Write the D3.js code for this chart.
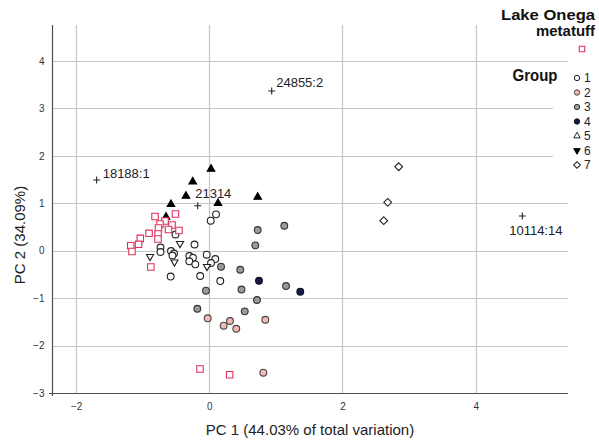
<!DOCTYPE html>
<html>
<head>
<meta charset="utf-8">
<script src="https://cdn.jsdelivr.net/npm/d3@7"></script>
<style>
  html, body { margin: 0; padding: 0; background: #fff; }
  svg { display: block; }
</style>
</head>
<body>
<svg id="chart" width="599" height="440"></svg>
<script>
// ---------- data (PC1, PC2) ----------
const xTicks = [-2, 0, 2, 4];
const yTicks = [-3, -2, -1, 0, 1, 2, 3, 4];
const groupLabels = ["1", "2", "3", "4", "5", "6", "7"];

const metatuff = [
  [-0.815, 0.721], [-0.508, 0.774], [-0.665, 0.626], [-0.740, 0.563], [-0.560, 0.542],
  [-0.763, 0.479], [-0.613, 0.447], [-0.455, 0.426], [-0.905, 0.367], [-0.770, 0.352],
  [-0.770, 0.247], [-1.036, 0.261], [-1.063, 0.135], [-1.180, 0.105], [-1.161, -0.017],
  [-0.878, -0.344], [-0.140, -2.494], [0.306, -2.614]
];
const group1 = [
  [0.101, 0.767], [0.021, 0.633], [-0.508, 0.342], [-0.222, 0.131], [-0.733, 0.067],
  [-0.733, -0.027], [-0.575, -0.006], [-0.530, -0.059], [-0.553, -0.101], [-0.300, -0.112],
  [-0.245, -0.148], [-0.300, -0.223], [-0.210, -0.287], [-0.039, -0.084], [0.090, -0.175],
  [0.026, -0.259], [-0.580, -0.544], [-0.137, -0.533], [0.165, -0.639]
];
const group2 = [
  [-0.024, -1.425], [0.216, -1.581], [0.311, -1.482], [0.405, -1.645], [0.841, -1.455], [0.811, -2.572]
];
const group3 = [
  [0.727, 0.436], [1.126, 0.527], [0.691, 0.114], [0.176, -0.337], [0.465, -0.401],
  [-0.050, -0.843], [0.483, -0.818], [1.152, -0.744], [0.716, -1.039], [-0.180, -1.223], [0.532, -1.278]
];
const group4 = [[0.746, -0.633], [1.366, -0.864]];
const group5 = [[-0.440, 0.152], [-0.890, -0.122], [-0.523, -0.238], [-0.035, -0.333]];
const group6 = [
  [0.026, 1.723], [-0.249, 1.455], [-0.350, 1.153], [-0.575, 0.978], [0.131, 0.999],
  [0.727, 1.132], [-0.650, 0.711]
];
const group7 = [[2.844, 1.771], [2.679, 1.020], [2.619, 0.633]];
const labelled = [
  ["18188:1", -1.691, 1.491],
  ["21314", -0.174, 0.949],
  ["24855:2", 0.937, 3.367],
  ["10114:14", 4.700, 0.732]
];

// ---------- layout ----------
const svg = d3.select("#chart");
const L = 52, R = 568, T = 25, B = 393;
const x = d3.scaleLinear().domain([-2.362, 5.386]).range([L, R]);
const y = d3.scaleLinear().domain([-3, 4.76]).range([B, T]);

const gridColor = "#c6c6c6";
const axisColor = "#4d4d4d";
const tickFont = "Liberation Sans, Arial, sans-serif";

// gridlines
svg.append("g").selectAll("line").data(yTicks.filter(d => d > -3)).join("line")
  .attr("x1", L).attr("x2", R)
  .attr("y1", d => Math.round(y(d)) + 0.5).attr("y2", d => Math.round(y(d)) + 0.5)
  .attr("stroke", gridColor).attr("stroke-width", 1.2);
svg.append("g").selectAll("line").data(xTicks).join("line")
  .attr("x1", d => Math.round(x(d)) + 0.5).attr("x2", d => Math.round(x(d)) + 0.5)
  .attr("y1", T).attr("y2", B)
  .attr("stroke", gridColor).attr("stroke-width", 1.2);

// axes (D3 axes with no ticks; labels only)
const xAxis = svg.append("g").attr("transform", `translate(0,${B + 0.5})`)
  .call(d3.axisBottom(x).tickValues(xTicks).tickSize(0).tickPadding(9).tickFormat(d3.format("d")));
xAxis.select(".domain").attr("d", `M${L - 3},0H${R}`).attr("stroke", axisColor).attr("stroke-width", 1.2);
xAxis.selectAll("text").attr("font-family", tickFont).attr("font-size", 10).attr("fill", "#333");

const yAxis = svg.append("g").attr("transform", `translate(${L + 0.5},0)`)
  .call(d3.axisLeft(y).tickValues(yTicks).tickSize(0).tickPadding(8).tickFormat(d3.format("d")));
yAxis.select(".domain").attr("d", `M0,${T}V${B + 3}`).attr("stroke", axisColor).attr("stroke-width", 1.2);
yAxis.selectAll("text").attr("font-family", tickFont).attr("font-size", 10).attr("fill", "#333");

// axis titles
svg.append("text").attr("x", (L + R) / 2).attr("y", 435).attr("text-anchor", "middle")
  .attr("font-family", tickFont).attr("font-size", 15).attr("fill", "#222")
  .text("PC 1 (44.03% of total variation)");
svg.append("text").attr("transform", "translate(25,235) rotate(-90)").attr("text-anchor", "middle")
  .attr("font-family", tickFont).attr("font-size", 15).attr("fill", "#222")
  .text("PC 2 (34.09%)");

// ---------- marks ----------
const pts = svg.append("g");
function circles(data, fill, stroke) {
  pts.append("g").selectAll("circle").data(data).join("circle")
    .attr("cx", d => x(d[0])).attr("cy", d => y(d[1])).attr("r", 3.4)
    .attr("fill", fill).attr("stroke", stroke).attr("stroke-width", 1.1);
}
function symbols(data, type, size, fill, stroke, rot) {
  pts.append("g").selectAll("path").data(data).join("path")
    .attr("d", d3.symbol().type(type).size(size))
    .attr("transform", d => `translate(${x(d[0])},${y(d[1])}) rotate(${rot || 0})`)
    .attr("fill", fill).attr("stroke", stroke).attr("stroke-width", 1.1);
}
circles(group1, "#fff", "#222");
symbols(group5, d3.symbolTriangle, 22, "#fff", "#222", 180);
circles(group3, "#9a9a9a", "#333");
circles(group2, "#f5b7b1", "#444");
circles(group4, "#141a4a", "#111");
symbols(group6, d3.symbolTriangle, 25, "#000", "#000", 0);
symbols(group7, d3.symbolSquare, 30, "#fff", "#222", 45);
symbols(metatuff, d3.symbolSquare, 42, "#fff", "#e0305a", 0);

// labelled plus markers
const plusG = svg.append("g");
const offsets = { "18188:1": [6, -2, "start"], "21314": [-2.5, -7.4, "start"], "24855:2": [4.5, -3.7, "start"], "10114:14": [13.5, 19, "middle"] };
labelled.forEach(([name, px, py]) => {
  const cx = x(px), cy = y(py);
  plusG.append("path").attr("d", `M${cx - 3.5},${cy}H${cx + 3.5}M${cx},${cy - 3.5}V${cy + 3.5}`)
    .attr("stroke", "#222").attr("stroke-width", 1.1);
  const o = offsets[name];
  plusG.append("text").attr("x", cx + o[0]).attr("y", cy + o[1]).attr("text-anchor", o[2])
    .attr("font-family", "Liberation Sans, Arial, sans-serif").attr("font-size", 13).attr("fill", "#222")
    .text(name);
});

// ---------- legend ----------
svg.append("rect").attr("x", 553).attr("y", 64).attr("width", 46).attr("height", 112).attr("fill", "#fff");
const leg = svg.append("g");
const boldFont = "Liberation Sans, Arial, sans-serif";
leg.append("text").attr("x", 595).attr("y", 20).attr("text-anchor", "end")
  .attr("font-family", boldFont).attr("font-weight", "bold").attr("font-size", 14.5)
  .attr("textLength", 94).attr("lengthAdjust", "spacingAndGlyphs").attr("fill", "#111").text("Lake Onega");
leg.append("text").attr("x", 595).attr("y", 36).attr("text-anchor", "end")
  .attr("font-family", boldFont).attr("font-weight", "bold").attr("font-size", 14.5)
  .attr("textLength", 59).attr("lengthAdjust", "spacingAndGlyphs").attr("fill", "#111").text("metatuff");
leg.append("path").attr("d", d3.symbol().type(d3.symbolSquare).size(30)).attr("transform", "translate(582,49)")
  .attr("fill", "#fff").attr("stroke", "#e0305a").attr("stroke-width", 1.1);
leg.append("text").attr("x", 557.5).attr("y", 81).attr("text-anchor", "end")
  .attr("font-family", boldFont).attr("font-weight", "bold").attr("font-size", 17)
  .attr("textLength", 45).attr("lengthAdjust", "spacingAndGlyphs").attr("fill", "#111").text("Group");

const legendSyms = [
  { t: "c", fill: "#fff", stroke: "#222" },
  { t: "c", fill: "#f5b7b1", stroke: "#444" },
  { t: "c", fill: "#9a9a9a", stroke: "#333" },
  { t: "c", fill: "#141a4a", stroke: "#111" },
  { t: d3.symbolTriangle, fill: "#fff", stroke: "#222", rot: 0, s: 18 },
  { t: d3.symbolTriangle, fill: "#000", stroke: "#000", rot: 180, s: 18 },
  { t: d3.symbolSquare, fill: "#fff", stroke: "#222", rot: 45, s: 22 }
];
const legY = d3.scalePoint().domain(groupLabels).range([78, 165]);
groupLabels.forEach((g, i) => {
  const s = legendSyms[i], cy = legY(g);
  if (s.t === "c") {
    leg.append("circle").attr("cx", 577).attr("cy", cy).attr("r", 2.7)
      .attr("fill", s.fill).attr("stroke", s.stroke).attr("stroke-width", 1);
  } else {
    leg.append("path").attr("d", d3.symbol().type(s.t).size(s.s))
      .attr("transform", `translate(577,${cy}) rotate(${s.rot})`)
      .attr("fill", s.fill).attr("stroke", s.stroke).attr("stroke-width", 1);
  }
  leg.append("text").attr("x", 584).attr("y", cy + 4).attr("font-family", tickFont)
    .attr("font-size", 12).attr("fill", "#222").text(g);
});
</script>
</body>
</html>
